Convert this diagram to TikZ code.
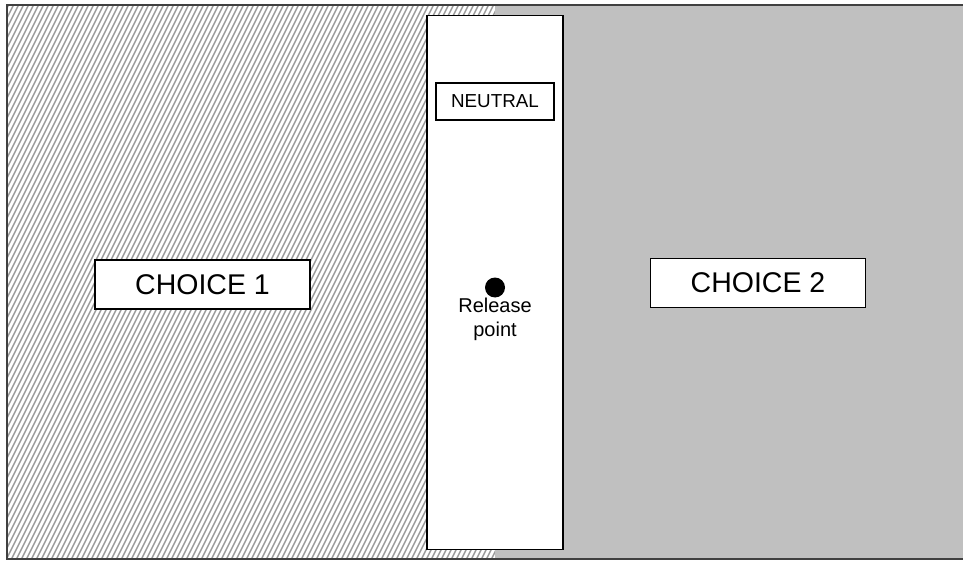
\documentclass[tikz,border=0pt]{standalone}
\usepackage{fontspec}
\setmainfont{Liberation Sans}
\definecolor{hatchgray}{HTML}{9C9C9C}
\definecolor{fieldgray}{HTML}{C0C0C0}
\definecolor{framegray}{HTML}{404040}
\tikzset{
  labelbox/.style={draw=black, fill=white, line width=1.6pt, inner sep=0pt, align=center},
  hatchline/.style={draw=hatchgray, line width=1.5pt},
}
\begin{document}
\begin{tikzpicture}[x=1pt, y=-1pt]
\useasboundingbox (0,0) rectangle (963,561);
% hatched left area
\begin{scope}
  \clip (7,5.5) rectangle (495,559);
  \fill[white] (7,5.5) rectangle (495,559);
  \foreach \x in {-280,-275,...,500} {
    \draw[hatchline] (\x,562) -- (\x+280,2);
  }
\end{scope}
% gray right area
\fill[fieldgray] (495,5.5) rectangle (964,559);
% outer frame
\draw[framegray, line width=2pt] (964,5.5) -- (7,5.5) -- (7,559) -- (964,559);
% neutral column
\node[draw=black, fill=white, line width=1.6pt, minimum width=136pt, minimum height=534pt, inner sep=0pt] (col) at (495,282.5) {};
% labels
\node[labelbox, minimum width=118pt, minimum height=37pt, font=\fontsize{18.8}{20}\selectfont] (neutral) at (495,101.5) {NEUTRAL};
\node[labelbox, minimum width=215pt, minimum height=49pt, font=\fontsize{28.5}{30}\selectfont] (c1) at (202.5,284.5) {CHOICE 1};
\node[labelbox, minimum width=215pt, minimum height=49pt, font=\fontsize{28.5}{30}\selectfont] (c2) at (758,283) {CHOICE 2};
\node[circle, fill=black, minimum size=20pt, inner sep=0pt] (dot) at (495,287.5) {};
\node[font=\fontsize{20}{24}\selectfont, align=center, anchor=north, inner sep=0pt] (rel) at (495,298) {Release\\point};
\end{tikzpicture}
\end{document}
